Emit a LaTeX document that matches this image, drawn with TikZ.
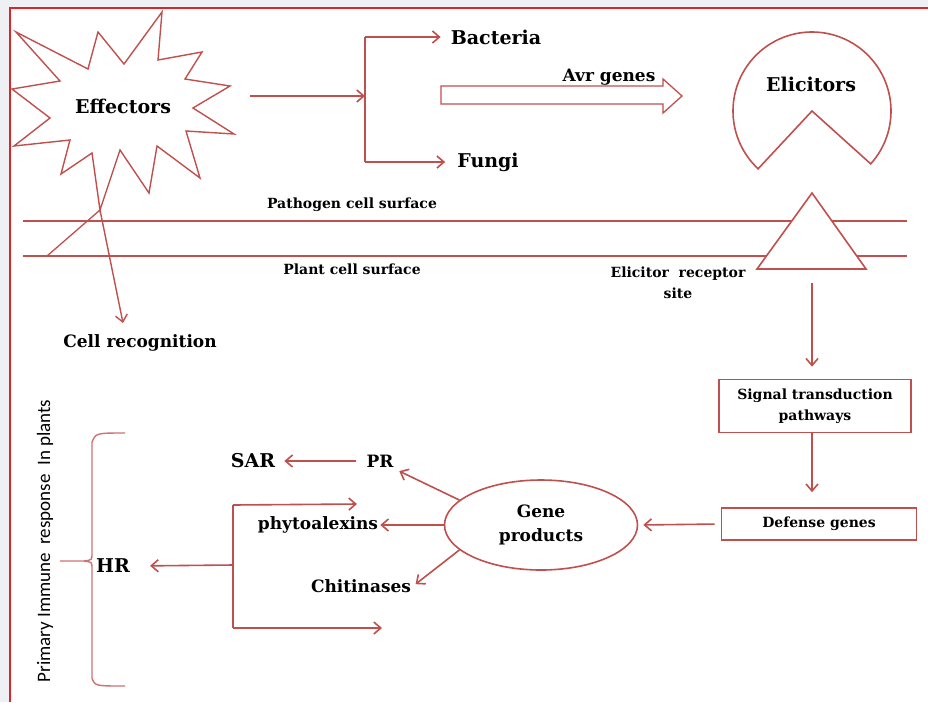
\documentclass[tikz,border=0pt]{standalone}
\usepackage{fontspec}
\setmainfont{DejaVu Serif}
\newfontfamily\sidefont{Carlito}
\usetikzlibrary{arrows.meta,shapes.geometric,calc}

\definecolor{accred}{HTML}{C0504D}
\definecolor{framered}{HTML}{D9262A}
\definecolor{pagegray}{HTML}{EEF0F3}

\begin{document}
\begin{tikzpicture}[x=1pt, y=-1pt,
  line/.style={draw=accred, line width=1.6pt},
  arr/.style={line, -{Straight Barb[length=7pt,width=12pt]}},
  big/.style={font=\bfseries\fontsize{19}{22}\selectfont, inner sep=2pt},
  mid/.style={font=\bfseries\fontsize{17}{24}\selectfont, inner sep=2pt, align=center},
  small/.style={font=\bfseries\fontsize{14}{21}\selectfont, inner sep=2pt, align=center},
  box/.style={line, small}]

  \useasboundingbox (0,0) rectangle (928,702);
  % page and frame
  \fill[pagegray] (0,0) rectangle (928,702);
  \fill[white] (10,8) rectangle (928,702);
  \draw[framered, line width=1.8pt] (10,702) -- (10,8) -- (928,8);

  % Effectors star
  \draw[line, line width=1.4pt, fill=white] (16,32) -- (88,69) -- (98,32) -- (124,64) -- (162,12)
    -- (158,60) -- (202,52) -- (185,79) -- (230,86) -- (193,108) -- (234,134) -- (186,131)
    -- (200,178) -- (157,146) -- (149,193) -- (120,150) -- (100,210) -- (92,153) -- (61,174)
    -- (70,140) -- (14,146) -- (50,118) -- (12,89) -- (60,81) -- cycle;
  \node[big] (effectors) at (123,106) {Effectors};
  \coordinate (spike) at (100,210);
  \coordinate (spikefoot) at (47,256);

  % pathogens
  \coordinate (effout) at (250,96);
  \coordinate (forktop) at (365,37);
  \coordinate (forkmid) at (365,96);
  \coordinate (forkbot) at (365,162);
  \node[big] (bacteria) at (496,37) {Bacteria};
  \node[big] (fungi) at (488,162) {Fungi};
  \draw[arr] (effout) -- (forkmid);
  \draw[line] (forktop) -- (forkbot);
  \draw[arr, shorten >=8pt] (forktop) -- (bacteria.west);
  \draw[arr, shorten >=10pt] (forkbot) -- (fungi.west);

  % Avr genes (hollow arrow)
  \draw[line, line width=1.3pt] (441,86) -- (663,86) -- (663,79) -- (682,96) -- (663,113)
    -- (663,104) -- (441,104) -- cycle;
  \node[mid] (avr) at (609,77) {Avr genes};

  % Elicitors
  \coordinate (elimouth) at (812,111);
  \draw[line] (elimouth) -- +(133:79) arc[start angle=133, end angle=402, radius=79] -- cycle;
  \node[big] (elicitors) at (811,84) {Elicitors};

  % cell surfaces
  \draw[line] (23,221) -- (907,221);
  \draw[line] (23,256) -- (907,256);
  \node[small] (pathogen) at (352,205) {Pathogen cell surface};
  \node[small] (plant) at (352,269) {Plant cell surface};

  % receptor site
  \draw[line, fill=white] (812,193) -- (866,269) -- (757,269) -- cycle;
  \coordinate (receptor) at (812,269);
  \node[small] (site) at (678,283) {Elicitor~ receptor\\site};

  % cell recognition
  \node[mid] (recog) at (140,343) {Cell recognition};
  \coordinate (recogtip) at (123,323);
  \draw[arr, line width=1.4pt] (spike) -- (recogtip);
  \draw[line, line width=1.3pt] (spike) -- (spikefoot);

  % signalling
  \node[box, minimum width=192pt, minimum height=53pt] (signal) at (815,406) {Signal transduction\\pathways};
  \node[box, minimum width=195pt, minimum height=32pt] (defense) at (819,524) {Defense genes};
  \draw[arr, shorten <=14pt, shorten >=12pt] (receptor) -- (receptor |- signal.north);
  \draw[arr, shorten >=15pt] (signal.south -| receptor) -- (defense.north -| receptor);

  % gene products
  \node[line, ellipse, mid, minimum width=193pt, minimum height=90pt] (gene) at (541,525) {Gene\\products};
  \draw[arr, shorten <=6pt, shorten >=5pt] (defense.west) -- (gene.east);

  \node[big] (sar) at (253,461) {SAR};
  \node[mid] (pr) at (380,461) {PR};
  \node[mid] (phyto) at (318,525) {phytoalexins};
  \node[mid] (chit) at (361,586) {Chitinases};
  \draw[arr, shorten <=8pt, shorten >=7pt] (pr.west) -- (sar.east);
  \draw[arr, shorten >=4pt] (gene.163) -- (pr.south east);
  \draw[arr] (gene.west) -- (phyto.east);
  \draw[arr, shorten >=3pt] (gene.197) -- (chit.east);

  % HR
  \node[big] (hr) at (113,566) {HR};
  \coordinate (hrtop) at (233,505);
  \coordinate (hrmid) at (233,565);
  \coordinate (hrbot) at (233,628);
  \coordinate (toptip) at (357,504);
  \coordinate (bottip) at (382,628);
  \draw[line] (hrtop) -- (hrbot);
  \draw[arr, shorten >=18pt] (hrmid) -- (hr.east);
  \draw[arr] (hrtop) -- (toptip);
  \draw[arr] (hrbot) -- (bottip);

  % primary immune response
  \draw[line, draw=accred!80, line width=1.4pt] (125,433) .. controls (96,433) .. (92,442) -- (92,553)
    .. controls (92,560) .. (84,561) -- (60,561);
  \draw[line, draw=accred!80, line width=1.4pt] (84,561) .. controls (92,562) .. (92,569) -- (92,678)
    .. controls (95,686) .. (125,686);
  \node[rotate=90, font=\sidefont\fontsize{19}{20}\selectfont] (primary) at (45,541) {Primary Immune~ response~ In plants};
\end{tikzpicture}
\end{document}
